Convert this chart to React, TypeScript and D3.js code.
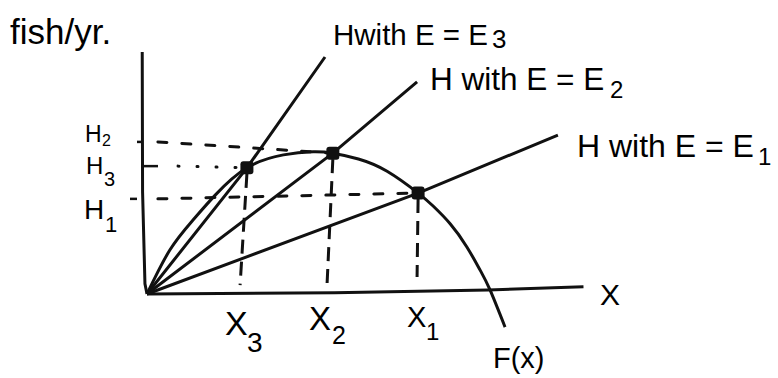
import React from 'react';
import * as d3 from 'd3';

// stock size (x) and natural growth F(x)
const stockGrid = [0, 6.7, 13.5, 20, 29.3, 40, 48.7, 54.5, 62, 70.4, 79.5, 83.9, 88.9, 93.8, 97.7, 100.6, 105];
const growthValues = [0, 12.9, 21.7, 29.0, 37.0, 40.8, 41.7, 41.3, 39.6, 36.0, 29.6, 25.8, 20.6, 13.8, 7.0, 1.2, -9.7];

// harvest lines H = qEx for E3, E2, E1
const effortSubs = ['3', '2', '1'];
const effortPrefix = ['Hwith E = E', 'H with E = E', 'H with E = E'];
const equilibriumX = [29.3, 54.5, 79.5];
const equilibriumH = [37.0, 41.3, 29.6];
const lineEndX = [52.2, 79.2, 120.5];
const lineEndH = [69.5, 62.2, 46.6];

// y-axis marks H2, H3, H1 (each tied to an equilibrium above)
const harvestSubs = ['2', '3', '1'];
const harvestLevels = [44.6, 37.5, 27.9];
const harvestTarget = [1, 0, 2];

// x-axis marks X3, X2, X1
const stockSubs = ['3', '2', '1'];
const stockMarks = [27.3, 52.8, 79.2];
const stockGuideEnd = [2.6, 2.8, 5.0];

const yAxisPts: [number, number][] = [[-1.4, 71], [-1.3, 30], [-0.6, 3], [0, 0]];
const xAxisPts: [number, number][] = [[0, 0], [55, 0.4], [100, 1.2], [128, 2.1]];

const App = () => {
  const x = d3.scaleLinear().domain([0, 100]).range([147, 488]);
  const y = d3.scaleLinear().domain([0, 50]).range([294, 123.5]);

  const line = d3.line<[number, number]>().x(d => x(d[0])).y(d => y(d[1]));
  const smooth = d3.line<[number, number]>()
    .x(d => x(d[0]))
    .y(d => y(d[1]))
    .curve(d3.curveNatural);

  const growth = stockGrid.map((s, i) => [s, growthValues[i]] as [number, number]);

  const font = "'Liberation Sans', Arial, sans-serif";
  const stroke = '#111';

  // label boxes for the three effort lines (px, from the sketch)
  const effortLabel = [
    { x: 333, y: 45, size: 29.5, sx: 492, sy: 48, ss: 26 },
    { x: 430, y: 90, size: 31.5, sx: 610, sy: 98, ss: 24 },
    { x: 577, y: 157, size: 32, sx: 758, sy: 165, ss: 24 },
  ];
  const harvestLabel = [
    { x: 85, y: 142, size: 23, sx: 102, sy: 146, ss: 16 },
    { x: 86, y: 174, size: 24, sx: 104, sy: 186, ss: 20 },
    { x: 84, y: 219, size: 28, sx: 105, sy: 232, ss: 22 },
  ];
  const stockLabel = [
    { dx: -15, y: 335, size: 34, sx: 247, sy: 352, ss: 28 },
    { dx: -18, y: 330, size: 33, sx: 332, sy: 344, ss: 25 },
    { dx: -10, y: 327, size: 29, sx: 426, sy: 340, ss: 24 },
  ];

  return (
    <svg
      width={778}
      height={378}
      style={{ position: 'absolute', left: 0, top: 0, background: '#fff' }}
      fontFamily={font}
    >
      <rect width={778} height={378} fill="#fff" />

      {/* axes */}
      <path d={line(yAxisPts) ?? ''} fill="none" stroke={stroke} strokeWidth={3} />
      <path d={line(xAxisPts) ?? ''} fill="none" stroke={stroke} strokeWidth={3} />

      {/* y ticks */}
      <line x1={137} x2={142} y1={y(harvestLevels[0])} y2={y(harvestLevels[0])} stroke={stroke} strokeWidth={2.5} />
      <line x1={142} x2={158} y1={y(harvestLevels[1])} y2={y(harvestLevels[1])} stroke={stroke} strokeWidth={2.5} />
      <line x1={130} x2={137} y1={y(harvestLevels[2])} y2={y(harvestLevels[2])} stroke={stroke} strokeWidth={2.5} />

      {/* horizontal guides */}
      {harvestLevels.map((h, i) => {
        const t = harvestTarget[i];
        const startX = i === 1 ? 9.1 : 3.2;
        return (
          <line
            key={'hg' + i}
            x1={x(startX)}
            y1={y(h)}
            x2={x(equilibriumX[t])}
            y2={y(equilibriumH[t])}
            stroke={stroke}
            strokeWidth={3}
            strokeLinecap="round"
            strokeDasharray={i === 1 ? '1 18' : '9 15'}
          />
        );
      })}

      {/* vertical guides */}
      {stockMarks.map((s, i) => (
        <line
          key={'vg' + i}
          x1={x(equilibriumX[i])}
          y1={y(equilibriumH[i]) + 6}
          x2={x(s)}
          y2={y(stockGuideEnd[i])}
          stroke={stroke}
          strokeWidth={3}
          strokeDasharray="14 8"
        />
      ))}

      {/* growth curve */}
      <path d={smooth(growth) ?? ''} fill="none" stroke={stroke} strokeWidth={3} />

      {/* harvest lines */}
      {effortSubs.map((_, i) => (
        <path
          key={'el' + i}
          d={line([[0, 0], [equilibriumX[i], equilibriumH[i]], [lineEndX[i], lineEndH[i]]]) ?? ''}
          fill="none"
          stroke={stroke}
          strokeWidth={3}
        />
      ))}

      {/* equilibria */}
      {equilibriumX.map((e, i) => (
        <rect
          key={'pt' + i}
          x={x(e) - 6.5}
          y={y(equilibriumH[i]) - 6.5}
          width={13}
          height={13}
          rx={3}
          fill={stroke}
        />
      ))}

      {/* texts */}
      <text x={10} y={44} fontSize={35}>fish/yr.</text>

      {effortSubs.map((s, i) => {
        const b = effortLabel[i];
        return (
          <g key={'lab' + i}>
            <text x={b.x} y={b.y} fontSize={b.size}>{effortPrefix[i]}</text>
            <text x={b.sx} y={b.sy} fontSize={b.ss}>{s}</text>
          </g>
        );
      })}

      {harvestSubs.map((s, i) => {
        const b = harvestLabel[i];
        return (
          <g key={'hl' + i}>
            <text x={b.x} y={b.y} fontSize={b.size}>H</text>
            <text x={b.sx} y={b.sy} fontSize={b.ss}>{s}</text>
          </g>
        );
      })}

      {stockSubs.map((s, i) => {
        const b = stockLabel[i];
        return (
          <g key={'xl' + i}>
            <text x={x(stockMarks[i]) + b.dx} y={b.y} fontSize={b.size}>X</text>
            <text x={b.sx} y={b.sy} fontSize={b.ss}>{s}</text>
          </g>
        );
      })}

      <text x={600} y={305} fontSize={30}>X</text>
      <text x={493} y={368} fontSize={29}>F(x)</text>
    </svg>
  );
};

export default App;
